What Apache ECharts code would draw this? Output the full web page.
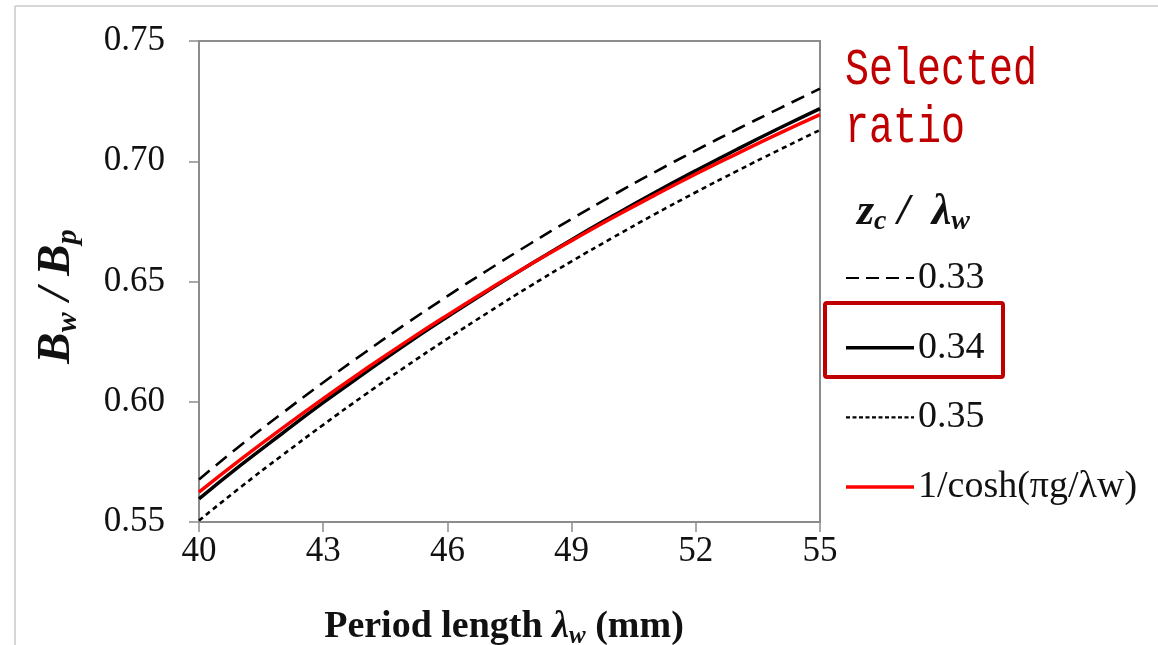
<!DOCTYPE html>
<html>
<head>
<meta charset="utf-8">
<script src="https://cdn.jsdelivr.net/npm/echarts@6/dist/echarts.min.js"></script>
<style>
  html, body { margin: 0; padding: 0; background: #fff; }
  #chart { width: 1158px; height: 645px; }
</style>
</head>
<body>
<div id="chart"></div>
<script>
// Period length λw (mm)
const periodLengths = [40, 41, 42, 43, 44, 45, 46, 47, 48, 49, 50, 51, 52, 53, 54, 55];

// Bw / Bp for each zc/λw ratio
const ratio033 = [0.5677, 0.5818, 0.5951, 0.6080, 0.6204, 0.6324, 0.6439, 0.6550, 0.6657, 0.6760, 0.6859, 0.6954, 0.7045, 0.7133, 0.7218, 0.7302];
const ratio034 = [0.5596, 0.5735, 0.5867, 0.5996, 0.6119, 0.6239, 0.6353, 0.6464, 0.6571, 0.6674, 0.6773, 0.6869, 0.6961, 0.7050, 0.7136, 0.7219];
const ratio035 = [0.5506, 0.5644, 0.5776, 0.5904, 0.6028, 0.6147, 0.6262, 0.6373, 0.6481, 0.6584, 0.6683, 0.6779, 0.6871, 0.6960, 0.7046, 0.7130];
const coshModel = [0.5624, 0.5759, 0.5888, 0.6013, 0.6133, 0.6249, 0.6360, 0.6467, 0.6571, 0.6670, 0.6766, 0.6858, 0.6947, 0.7032, 0.7115, 0.7194];

const seriesNames = ['0.33', '0.34', '0.35', '1/cosh(πg/λw)'];
const xTicks = [40, 43, 46, 49, 52, 55];
const yTicks = [0.55, 0.60, 0.65, 0.70, 0.75];

const serif = '"Liberation Serif", "DejaVu Serif", serif';

const seriesStyles = [
  { color: '#000', width: 2.6, type: [14, 8] },
  { color: '#000', width: 3.5, type: 'solid' },
  { color: '#000', width: 2.6, type: [5, 4] },
  { color: '#ff0000', width: 3.5, type: 'solid' }
];
const seriesData = [ratio033, ratio034, ratio035, coshModel];

const chart = echarts.init(document.getElementById('chart'), null, { renderer: 'canvas' });

const series = seriesNames.map((name, i) => ({
  name: name,
  type: 'line',
  data: periodLengths.map((x, k) => [x, seriesData[i][k]]),
  showSymbol: false,
  symbol: 'none',
  smooth: true,
  z: i === 3 ? 4 : (i === 1 ? 3 : 2),
  lineStyle: { color: seriesStyles[i].color, width: seriesStyles[i].width, type: seriesStyles[i].type },
  itemStyle: { color: seriesStyles[i].color },
  emphasis: { disabled: true }
}));

// Legend rows: key line + label
const legendTop = 278, legendStep = 69.7;
const legendGraphics = [];
seriesNames.forEach((name, i) => {
  const y = legendTop + i * legendStep;
  legendGraphics.push({
    type: 'line',
    shape: { x1: 846, y1: y, x2: 914, y2: y },
    style: {
      stroke: seriesStyles[i].color,
      lineWidth: i === 1 || i === 3 ? 3.5 : 2.2,
      lineDash: i === 0 ? [13, 7] : (i === 2 ? [4, 2.5] : null)
    }
  });
  legendGraphics.push({
    type: 'text',
    x: 918, y: y,
    style: { text: name, font: '38px ' + serif, fill: '#111', textVerticalAlign: 'middle' }
  });
});

const option = {
  backgroundColor: '#fff',
  animation: false,
  grid: {
    left: 199, top: 41, right: 338, bottom: 123,
    outerBoundsMode: 'none', containLabel: false,
    show: true, borderColor: '#8c8c8c', borderWidth: 2, backgroundColor: 'transparent'
  },
  xAxis: {
    type: 'value',
    min: 40, max: 55, interval: 3,
    axisLine: { lineStyle: { color: '#8c8c8c', width: 2 } },
    axisTick: { show: true, length: 10, lineStyle: { color: '#8c8c8c', width: 1.5 } },
    splitLine: { show: false },
    axisLabel: { margin: 12, fontFamily: serif, fontSize: 35, color: '#111', formatter: v => xTicks.includes(v) ? String(v) : '' },
    name: '{b|Period length }{bi|λ}{sub|w}{b| (mm)}',
    nameLocation: 'middle',
    nameGap: 84,
    nameTextStyle: {
      padding: [0, 11, 0, 0],
      rich: {
        b: { fontFamily: serif, fontWeight: 'bold', fontSize: 38, color: '#111' },
        bi: { fontFamily: serif, fontWeight: 'bold', fontStyle: 'italic', fontSize: 38, color: '#111' },
        sub: { fontFamily: serif, fontWeight: 'bold', fontStyle: 'italic', fontSize: 25, color: '#111', padding: [18, 0, 0, 0] }
      }
    }
  },
  yAxis: {
    type: 'value',
    min: 0.55, max: 0.75, interval: 0.05,
    axisLine: { show: true, lineStyle: { color: '#8c8c8c', width: 2 } },
    axisTick: { show: true, length: 10, lineStyle: { color: '#8c8c8c', width: 1.5 } },
    splitLine: { show: false },
    axisLabel: { margin: 34, fontFamily: serif, fontSize: 35, color: '#111', formatter: v => v.toFixed(2) },
    name: '{bi|B}{sub|w}{bi| / B}{sub|p}',
    nameLocation: 'middle',
    nameGap: 116,
    nameRotate: 90,
    nameTextStyle: {
      padding: [0, 30, 0, 0],
      rich: {
        bi: { fontFamily: serif, fontWeight: 'bold', fontStyle: 'italic', fontSize: 47, color: '#111' },
        sub: { fontFamily: serif, fontWeight: 'bold', fontStyle: 'italic', fontSize: 30, color: '#111', padding: [22, 0, 0, 0] }
      }
    }
  },
  series: series,
  graphic: [
    // Page frame
    { type: 'line', shape: { x1: 15, y1: 6, x2: 1158, y2: 6 }, style: { stroke: '#c8c8c8', lineWidth: 1.5 } },
    { type: 'line', shape: { x1: 15, y1: 6, x2: 15, y2: 645 }, style: { stroke: '#c8c8c8', lineWidth: 1.5 } },
    // Annotation
    { type: 'text', x: 845, y: 42, scaleY: 1.28, style: { text: 'Selected\nratio', font: '40px "Liberation Mono", "DejaVu Sans Mono", monospace', fill: '#c00000', lineHeight: 45, textVerticalAlign: 'top' } },
    // Legend heading: zc / λw
    {
      type: 'text', x: 857, y: 190,
      style: {
        text: '{a|z}{s|c}{a| /  λ}{s|w}',
        rich: {
          a: { fontFamily: serif, fontWeight: 'bold', fontStyle: 'italic', fontSize: 44, fill: '#111' },
          s: { fontFamily: serif, fontWeight: 'bold', fontStyle: 'italic', fontSize: 28, fill: '#111', padding: [18, 0, 0, 0] }
        }
      }
    },
    // Highlight box around the selected ratio
    { type: 'rect', shape: { x: 825, y: 303, width: 178, height: 74, r: 2 }, style: { fill: 'none', stroke: '#c00000', lineWidth: 4 } }
  ].concat(legendGraphics)
};

chart.setOption(option);
</script>
</body>
</html>
